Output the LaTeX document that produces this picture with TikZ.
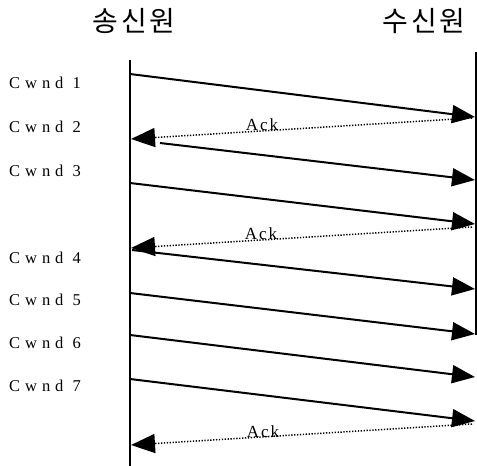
\documentclass[tikz,border=0pt]{standalone}
\usepackage{fontspec}
\setmainfont{Liberation Serif}
\newfontfamily\krfont[LetterSpace=10]{Noto Sans CJK KR}
\usetikzlibrary{arrows.meta}
\tikzset{
  lifeline/.style={line width=2pt},
  datamsg/.style={line width=2pt,-{Triangle[length=23pt,width=18pt]}},
  ackmsg/.style={line width=1.5pt,dash pattern=on 1.3pt off 1.6pt,-{Triangle[length=24pt,width=19pt]}},
  title/.style={font=\krfont\fontsize{28}{30}\selectfont},
  cwlabel/.style={font=\addfontfeature{LetterSpace=30}\fontsize{16.5}{18}\selectfont,anchor=west,inner sep=0pt},
  acklabel/.style={font=\addfontfeature{LetterSpace=12}\fontsize{17}{18}\selectfont,anchor=base,inner sep=0pt}
}
\begin{document}
\begin{tikzpicture}[x=1pt,y=-1pt]
\useasboundingbox (0,0) rectangle (477,466);
% titles
\node[title] (snd) at (134,21) {송신원};
\node[title] (rcv) at (424,21) {수신원};
% lifelines
\coordinate (Ltop) at (130,60);
\coordinate (Lbot) at (130,466);
\coordinate (Rtop) at (475.5,52);
\coordinate (Rbot) at (475.5,335);
\draw[lifeline] (Ltop) -- (Lbot);
\draw[lifeline] (Rtop) -- (Rbot);
% labels
\node[cwlabel] (c1) at (9,83) {Cwnd 1};
\node[cwlabel] (c2) at (9,127) {Cwnd 2};
\node[cwlabel] (c3) at (9,171) {Cwnd 3};
\node[cwlabel] (c4) at (9,258) {Cwnd 4};
\node[cwlabel] (c5) at (9,300) {Cwnd 5};
\node[cwlabel] (c6) at (9,343) {Cwnd 6};
\node[cwlabel] (c7) at (9,386) {Cwnd 7};
% data message endpoints
\coordinate (s1) at (130,74);   \coordinate (r1) at (475,117);
\coordinate (s2) at (160,143);  \coordinate (r2) at (475,180);
\coordinate (s3) at (130,183);  \coordinate (r3) at (475,224);
\coordinate (s4) at (132,250);  \coordinate (r4) at (475,289);
\coordinate (s5) at (130,293);  \coordinate (r5) at (475,334);
\coordinate (s6) at (130,335);  \coordinate (r6) at (475,377);
\coordinate (s7) at (130,379);  \coordinate (r7) at (475,421);
\draw[datamsg] (s1) -- (r1);
\draw[datamsg] (s2) -- (r2);
\draw[datamsg] (s3) -- (r3);
\draw[datamsg] (s4) -- (r4);
\draw[datamsg] (s5) -- (r5);
\draw[datamsg] (s6) -- (r6);
\draw[datamsg] (s7) -- (r7);
% acks
\coordinate (a1r) at (472,118); \coordinate (a1l) at (131,139);
\coordinate (a2r) at (472,227); \coordinate (a2l) at (131,248);
\coordinate (a3r) at (472,424); \coordinate (a3l) at (131,445);
\draw[ackmsg] (a1r) -- (a1l);
\draw[ackmsg] (a2r) -- (a2l);
\draw[ackmsg] (a3r) -- (a3l);
\node[acklabel] (k1) at (262,130) {Ack};
\node[acklabel] (k2) at (261,239) {Ack};
\node[acklabel] (k3) at (263,437) {Ack};
\end{tikzpicture}
\end{document}
